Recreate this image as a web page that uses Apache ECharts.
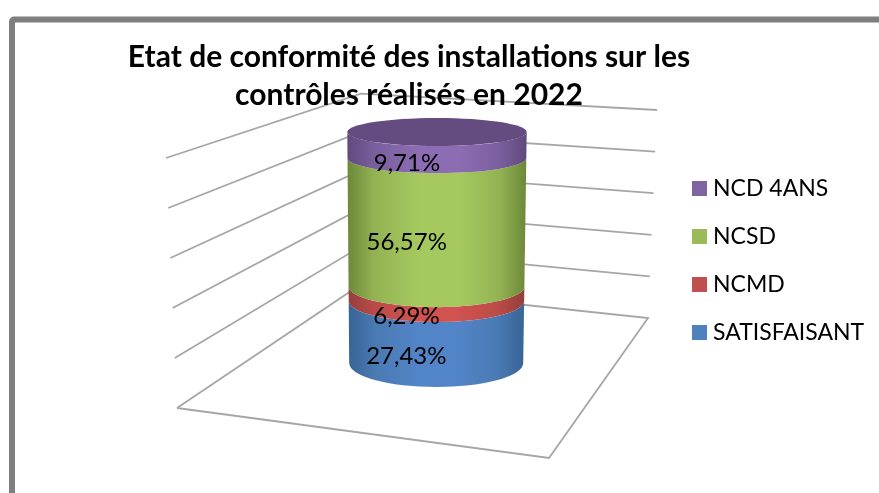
<!DOCTYPE html>
<html>
<head>
<meta charset="utf-8">
<title>Etat de conformité</title>
<style>
  html, body { margin: 0; padding: 0; background: #fff; }
  #chart { width: 879px; height: 493px; }
</style>
<script src="https://cdn.jsdelivr.net/npm/echarts@6/dist/echarts.min.js"></script>
</head>
<body>
<div id="chart"></div>
<script>
// bas de la pile en premier
const categories = ['2022'];
const seriesNames = ['SATISFAISANT', 'NCMD', 'NCSD', 'NCD 4ANS'];
const seriesValues = [27.43, 6.29, 56.57, 9.71];
const axisTicks = [0, 20, 40, 60, 80, 100];
const titleText = 'Etat de conformité des installations sur les\ncontrôles réalisés en 2022';

// dégradés du cylindre : bord, milieu, centre
const shades = [
  ['#386496', '#4a7ab3', '#5285c8'],
  ['#943f3c', '#bb4b48', '#d0534f'],
  ['#6c8839', '#93b353', '#a6c95f'],
  ['#5f4a7c', '#7a5f9e', '#8c6db3']
];
const legendColors = ['#4f81bd', '#c0504d', '#9bbb59', '#8064a2'];
const capColor = '#644c80';
const fontName = 'Lato, "Open Sans", sans-serif';

// murs et sol en fausse perspective
function lerp(a, b, t) { return a + (b - a) * t; }
const wall = {
  left: [[177, 408], [166, 158]],
  corner: [[357, 287], [361, 93.6]],
  right: [[648, 318], [657, 110]]
};
const floorFront = [549, 458];

function wallPoint(side, t) {
  return [lerp(side[0][0], side[1][0], t), lerp(side[0][1], side[1][1], t)];
}

function renderWall(params, api) {
  const t = api.value(0) / 100;
  const pts = [wallPoint(wall.left, t), wallPoint(wall.corner, t), wallPoint(wall.right, t)];
  if (t === 0) {
    pts.push(floorFront, pts[0]);
  }
  return {
    type: 'polyline',
    shape: { points: pts },
    style: { stroke: '#a6a6a6', lineWidth: 1.8, fill: 'none' }
  };
}

// le cylindre rétrécit un peu vers le bas, l'ellipse s'ouvre
function slice(y) {
  const t = (y - 132) / 231;
  return { cx: 437 - 0.8 * t, rx: 89.7 - 2.7 * t, ry: 14 + 10 * t };
}

function makeRender(index) {
  const stops = shades[index];
  return function (params, api) {
    const from = api.value(1);
    const to = api.value(2);
    const y2 = api.coord([0, from])[1];
    const isTop = to >= 99.99;
    const y1 = api.coord([0, to])[1] - (isTop ? 4 : 0);
    const a = slice(y1);
    const b = slice(y2);
    const path = 'M' + (a.cx - a.rx) + ' ' + y1 +
      'L' + (b.cx - b.rx) + ' ' + y2 +
      'A' + b.rx + ' ' + b.ry + ' 0 0 0 ' + (b.cx + b.rx) + ' ' + y2 +
      'L' + (a.cx + a.rx) + ' ' + y1 +
      'A' + a.rx + ' ' + a.ry + ' 0 0 1 ' + (a.cx - a.rx) + ' ' + y1 + 'Z';
    const mid = api.coord([0, (from + to) / 2])[1];
    const children = [{
      type: 'path',
      shape: { pathData: path },
      style: {
        fill: {
          type: 'linear', x: 0, y: 0, x2: 1, y2: 0,
          colorStops: [
            { offset: 0, color: stops[0] },
            { offset: 0.15, color: stops[1] },
            { offset: 0.4, color: stops[2] },
            { offset: 0.62, color: stops[2] },
            { offset: 0.85, color: stops[1] },
            { offset: 1, color: stops[0] }
          ]
        }
      }
    }, {
      type: 'text',
      z2: 20,
      style: {
        text: seriesValues[index].toFixed(2).replace('.', ',') + '%',
        x: slice(mid).cx - 30,
        y: mid + slice(mid).ry + 2,
        fill: '#000',
        font: '24px ' + fontName,
        align: 'center',
        verticalAlign: 'middle'
      }
    }];
    if (isTop) {
      children.push({
        type: 'ellipse',
        z2: 5,
        shape: { cx: a.cx, cy: y1, rx: a.rx, ry: a.ry },
        style: { fill: capColor }
      });
    }
    return { type: 'group', children: children };
  };
}

let total = 0;
const stackSeries = seriesNames.map(function (name, i) {
  const from = total;
  total += seriesValues[i];
  return {
    name: name,
    type: 'custom',
    coordinateSystem: 'cartesian2d',
    itemStyle: { color: legendColors[i] },
    renderItem: makeRender(i),
    data: [[categories[0], from, total]],
    encode: { x: 0, y: [1, 2] },
    z: 3
  };
});

const chart = echarts.init(document.getElementById('chart'));
chart.setOption({
  animation: false,
  backgroundColor: '#fff',
  title: {
    text: titleText,
    left: 404,
    top: 33,
    textAlign: 'center',
    textStyle: { fontFamily: fontName, fontSize: 30, fontWeight: 'bold', color: '#000', lineHeight: 38 }
  },
  legend: {
    data: seriesNames.slice().reverse(),
    orient: 'vertical',
    left: 692,
    top: 177,
    padding: 0,
    itemWidth: 15,
    itemHeight: 15,
    itemGap: 25,
    icon: 'rect',
    textStyle: { fontFamily: fontName, fontSize: 23, color: '#000', padding: [0, 0, 0, 1] }
  },
  grid: { left: 347, width: 180, top: 136, height: 227 },
  xAxis: { type: 'category', data: categories, show: false },
  yAxis: { type: 'value', min: 0, max: 100, interval: 20, show: false },
  graphic: [{
    type: 'rect',
    shape: { x: 12, y: 19.5, width: 900, height: 520, r: 2 },
    style: { fill: 'none', stroke: '#7f7f7f', lineWidth: 6 },
    silent: true
  }],
  series: [{
    name: 'murs',
    type: 'custom',
    coordinateSystem: 'none',
    renderItem: renderWall,
    data: axisTicks.map(function (t) { return [t]; }),
    z: 1,
    silent: true
  }].concat(stackSeries)
});
</script>
</body>
</html>
